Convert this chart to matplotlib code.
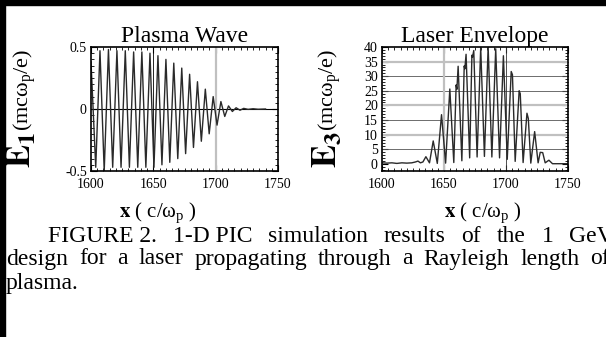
import matplotlib
matplotlib.use('Agg')
import matplotlib.pyplot as plt
from matplotlib.ticker import MultipleLocator
from matplotlib.patches import Rectangle

plt.rcParams['font.family'] = 'Liberation Serif'
plt.rcParams['mathtext.fontset'] = 'stix'

# plasma wave E1 (turning points)
wave_x = [1600.0, 1603.8, 1607.2, 1610.6, 1614.0, 1617.4, 1620.8, 1624.1, 1627.5, 1630.8,
          1634.2, 1637.5, 1640.8, 1644.0, 1647.3, 1650.5, 1653.7, 1656.9, 1660.1, 1663.2,
          1666.4, 1669.6, 1672.8, 1675.9, 1679.1, 1682.2, 1685.4, 1688.5, 1691.7, 1694.8,
          1698.0, 1701.1, 1704.2, 1707.3, 1710.3, 1713.4, 1716.4, 1719.5, 1722.5, 1726.0,
          1730.0, 1734.0, 1740.0]
wave_e1 = [0.38, -0.47, 0.47, -0.50, 0.48, -0.47, 0.47, -0.47, 0.47, -0.47,
           0.46, -0.47, 0.46, -0.47, 0.45, -0.47, 0.43, -0.45, 0.40, -0.43,
           0.37, -0.40, 0.33, -0.36, 0.28, -0.31, 0.22, -0.26, 0.16, -0.20,
           0.10, -0.13, 0.06, -0.06, 0.025, -0.02, 0.01, -0.01, 0.005, -0.003,
           0.002, -0.002, 0.0]

# laser envelope E3
laser_x = [1600, 1604, 1608, 1612, 1616, 1620, 1624, 1627, 1629, 1631,
           1633, 1635.4, 1638.3, 1641.3, 1644.6, 1648.0, 1651.3, 1654.7, 1657.9, 1659.8,
           1660.4, 1661.4, 1664.4, 1666.3, 1666.8, 1667.8, 1670.7, 1672.5, 1673.0, 1674.0,
           1676.7, 1679.6, 1682.6, 1685.6, 1688.6, 1691.7, 1694.8, 1697.9, 1701.0, 1704.2,
           1705.2, 1707.4, 1710.6, 1711.5, 1713.8, 1716.9, 1718.0, 1720.0, 1723.1, 1725.9,
           1727.6, 1729.6, 1731.6, 1734.6, 1737.5, 1740, 1750]
laser_e3 = [0.3, 0.2, 0.3, 0.1, 0.3, 0.2, 0.3, 0.6, 0.9, 0.3,
            0.6, 2.4, 0.3, 7.8, 0.1, 16.8, 0.2, 25.6, 0.4, 27.0,
            25.5, 33.4, 1.0, 33.5, 32.5, 37.5, 2.0, 37.2, 36.5, 38.8,
            2.3, 39.8, 2.5, 40.0, 2.3, 39.4, 2.0, 37.0, 1.5, 31.6,
            30.5, 0.8, 25.0, 24.0, 0.4, 17.3, 15.5, 0.2, 11.0, 0.3,
            3.9, 3.8, 0.3, 1.2, 0.0, 0.0, 0.0]

x_ticks = [1600, 1650, 1700, 1750]
caption1 = ["FIGURE 2.", "1-D PIC", "simulation", "results", "of", "the", "1", "GeV"]
caption2 = ["design", "for", "a", "laser", "propagating", "through", "a", "Rayleigh", "length", "of"]
caption3 = "plasma."

W, H = 606, 337
fig = plt.figure(figsize=(W / 100, H / 100), dpi=100)


def px_axes(x0, y0, x1, y1):
    return fig.add_axes([x0 / W, 1 - y1 / H, (x1 - x0) / W, (y1 - y0) / H])


def style(ax):
    ax.tick_params(which='both', direction='in', top=True, right=True, labelsize=10)
    ax.tick_params(axis='x', pad=5)
    ax.tick_params(axis='y', pad=3)
    ax.tick_params(which='major', length=4, width=0.8)
    ax.tick_params(which='minor', length=2.5, width=0.6)
    for s in ax.spines.values():
        s.set_linewidth(1.2)
    ax.set_xlim(1600, 1750)
    ax.set_xticks(x_ticks)
    ax.xaxis.set_minor_locator(MultipleLocator(5))


# left: plasma wave
ax1 = px_axes(91, 47, 278, 171)
ax1.axhline(0, color='black', lw=0.8)
ax1.axvline(1650, color='black', lw=0.6)
ax1.axvline(1700, color='#c0c0c0', lw=1.6)
ax1.plot(wave_x, wave_e1, color='#2a2a2a', lw=1.0)
style(ax1)
ax1.set_ylim(-0.5, 0.5)
ax1.set_yticks([-0.5, 0, 0.5])
ax1.set_yticklabels(['-0.5', '0', '0.5'])
ax1.yaxis.set_minor_locator(MultipleLocator(0.05))
ax1.set_title('Plasma Wave', fontsize=17, pad=2)

# right: laser envelope
ax2 = px_axes(382, 47, 568, 171)
for y in [5, 15, 25, 30]:
    ax2.axhline(y, color='#555555', lw=0.6)
for y in [10, 20, 35]:
    ax2.axhline(y, color='#c0c0c0', lw=1.6)
ax2.axvline(1650, color='#c0c0c0', lw=1.6)
ax2.axvline(1700, color='#333333', lw=0.6)
ax2.plot(laser_x, laser_e3, color='#2a2a2a', lw=1.0)
style(ax2)
ax2.set_ylim(-2.5, 40)
ax2.set_yticks(range(0, 41, 5))
ax2.yaxis.set_minor_locator(MultipleLocator(1))
ax2.set_title('Laser Envelope', fontsize=17, pad=2)

# y labels
unit = r'(mc$\mathregular{ω_p}$/e)'
fig.text(22 / W, 1 - 168 / H, r'$\mathbf{E_1}$', rotation=90, fontsize=25, ha='center', va='bottom')
fig.text(25 / W, 1 - 131 / H, unit, rotation=90, fontsize=16, ha='center', va='bottom')
fig.text(327 / W, 1 - 168 / H, r'$\mathbf{E_3}$', rotation=90, fontsize=25, ha='center', va='bottom')
fig.text(330 / W, 1 - 131 / H, unit, rotation=90, fontsize=16, ha='center', va='bottom')

# x labels
for xc in [158, 483]:
    fig.text(xc / W, 1 - 213 / H, r'$\mathbf{x}$ ( c/$\mathregular{ω_p}$ )', fontsize=15,
             ha='center', va='center')

# caption, justified like the page
renderer = fig.canvas.get_renderer()


def justify(words, x0, x1, ypx, size):
    ts = [fig.text(0, 1 - ypx / H, w, fontsize=size, va='center') for w in words]
    ws = [t.get_window_extent(renderer).width for t in ts]
    gap = (x1 - x0 - sum(ws)) / (len(ws) - 1)
    x = x0
    for t, w in zip(ts, ws):
        t.set_x(x / W)
        x += w + gap


justify(caption1, 48, 614, 236, 17)
justify(caption2, 6, 610, 259, 17)
fig.text(6 / W, 1 - 283 / H, caption3, fontsize=17, va='center')

# page borders
fig.patches.append(Rectangle((0, 1 - 5 / H), 1, 5 / H, transform=fig.transFigure,
                             color='black', zorder=10))
fig.patches.append(Rectangle((0, 0), 5 / W, 1, transform=fig.transFigure,
                             color='black', zorder=10))

fig.savefig('out.png', dpi=100)
